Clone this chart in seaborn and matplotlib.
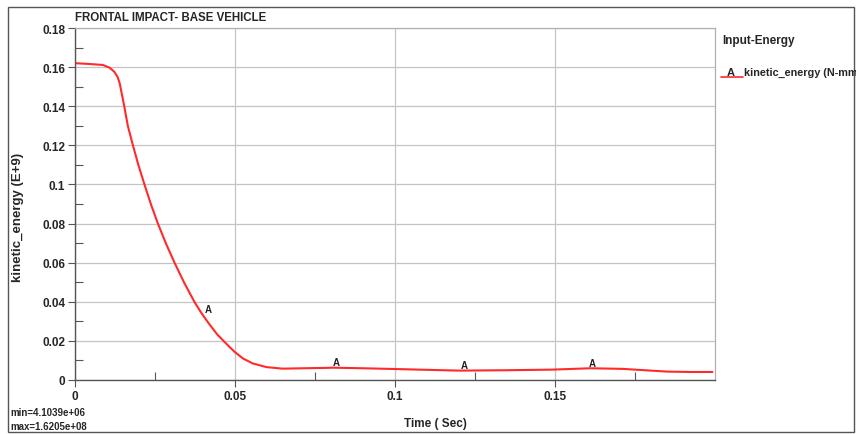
import numpy as np
import pandas as pd
import matplotlib
matplotlib.use("Agg")
import matplotlib.pyplot as plt
from matplotlib.patches import Rectangle
import seaborn as sns

# ---- data ----
time_s = [0.0, 0.0045, 0.0087, 0.0108, 0.0123, 0.0133, 0.0140, 0.0146,
          0.0155, 0.0165, 0.0181, 0.0198, 0.0217, 0.0238, 0.0259, 0.0285,
          0.0311, 0.0342, 0.0373, 0.0394, 0.0420, 0.0445, 0.0467, 0.0498,
          0.0525, 0.0555, 0.0598, 0.0649, 0.0712, 0.0785, 0.0805, 0.09,
          0.1004, 0.11, 0.120, 0.135, 0.149, 0.161, 0.171, 0.178, 0.185,
          0.192, 0.1992]
kinetic = [0.1620, 0.1616, 0.1611, 0.1597, 0.1576, 0.1550, 0.1515, 0.1465,
           0.1390, 0.1300, 0.1200, 0.1100, 0.1000, 0.0895, 0.0800, 0.0695,
           0.0600, 0.0495, 0.0400, 0.0345, 0.0285, 0.0232, 0.0195, 0.0145,
           0.0110, 0.0085, 0.0066, 0.0058, 0.0060, 0.0062, 0.0063, 0.0060,
           0.0056, 0.0052, 0.0048, 0.0050, 0.0053, 0.0060, 0.0057, 0.0050,
           0.0043, 0.0041, 0.0041]
label_times = [0.04, 0.08, 0.12, 0.16]
x_ticks = [0, 0.05, 0.1, 0.15]
x_tick_labels = ["0", "0.05", "0.1", "0.15"]
y_ticks = [0, 0.02, 0.04, 0.06, 0.08, 0.1, 0.12, 0.14, 0.16, 0.18]
y_tick_labels = ["0", "0.02", "0.04", "0.06", "0.08", "0.1", "0.12", "0.14", "0.16", "0.18"]
title = "FRONTAL IMPACT- BASE VEHICLE"
legend_title = "Input-Energy"
series_name = "kinetic_energy (N-mm"
min_text = "min=4.1039e+06"
max_text = "max=1.6205e+08"

df = pd.DataFrame({"t": time_s, "ke": kinetic})

sns.set_style("white")
plt.rcParams["font.family"] = ["Liberation Sans", "DejaVu Sans"]
plt.rcParams["font.weight"] = "bold"

fig = plt.figure(figsize=(8.56, 4.35), dpi=100)
ax = fig.add_axes([75/856, 1 - 381/435, 640/856, (381 - 29)/435])

red = "#ff2a2a"
sns.lineplot(data=df, x="t", y="ke", ax=ax, color=red, linewidth=1.5)

ax.set_xlim(0, 0.2)
ax.set_ylim(0, 0.18)
ax.set_xticks(x_ticks)
ax.set_xticklabels(x_tick_labels)
ax.set_yticks(y_ticks)
ax.set_yticklabels(y_tick_labels)
ax.set_xticks([0.025, 0.075, 0.125, 0.175], minor=True)
ax.set_yticks(np.arange(0.01, 0.18, 0.02), minor=True)
ax.grid(True, which="major", color="#c4c4c4", linewidth=0.9)
ax.tick_params(axis="both", which="both", left=True, bottom=True)
ax.tick_params(axis="both", which="major", direction="out", length=5,
               width=0.8, color="#555555", labelsize=8.5, pad=2)
ax.tick_params(axis="both", which="minor", direction="in", length=6,
               width=0.8, color="#555555")
for lab in ax.get_xticklabels() + ax.get_yticklabels():
    lab.set_fontweight("bold")
ax.set_xlabel("")
ax.set_ylabel("")
for s in ["left", "bottom"]:
    ax.spines[s].set_color("#555555")
    ax.spines[s].set_linewidth(1.0)
for s in ["top", "right"]:
    ax.spines[s].set_color("#b0b0b0")
    ax.spines[s].set_linewidth(0.9)

# "A" labels on the curve
for lt in label_times:
    yv = np.interp(lt, time_s, kinetic)
    ax.text(lt + 0.0005, yv + 0.0004, "A", fontsize=7, fontweight="bold",
            ha="left", va="bottom", color="#222222")

# texts
fig.text(75/856, 1 - 18/435, title, fontsize=8.3, fontweight="bold",
         ha="left", va="center")
fig.text(18/856, 1 - 217/435, "kinetic_energy (E+9)", rotation=90,
         fontsize=9.5, fontweight="bold", ha="center", va="center")
fig.text(435/856, 1 - 424/435, "Time ( Sec)", fontsize=8.5,
         fontweight="bold", ha="center", va="center")
fig.text(10/856, 1 - 413/435, min_text, fontsize=7, fontweight="bold",
         ha="left", va="center")
fig.text(10/856, 1 - 427/435, max_text, fontsize=7, fontweight="bold",
         ha="left", va="center")

# legend area
fig.text(722/856, 1 - 41/435, legend_title, fontsize=8.5, fontweight="bold",
         ha="left", va="center")
fig.add_artist(plt.Line2D([721/856, 743/856], [1 - 78/435, 1 - 78/435],
                          color=red, linewidth=1.2, transform=fig.transFigure))
fig.text(727/856, 1 - 73/435, "A", fontsize=8, fontweight="bold",
         ha="left", va="center")
fig.text(744/856, 1 - 73/435, series_name, fontsize=7.8, fontweight="bold",
         ha="left", va="center")

# outer frame
fig.add_artist(Rectangle((8/856, 2/435), 846/856, 425/435, fill=False,
                         edgecolor="#555555", linewidth=1.0,
                         transform=fig.transFigure))

fig.savefig("out.png", dpi=100)
